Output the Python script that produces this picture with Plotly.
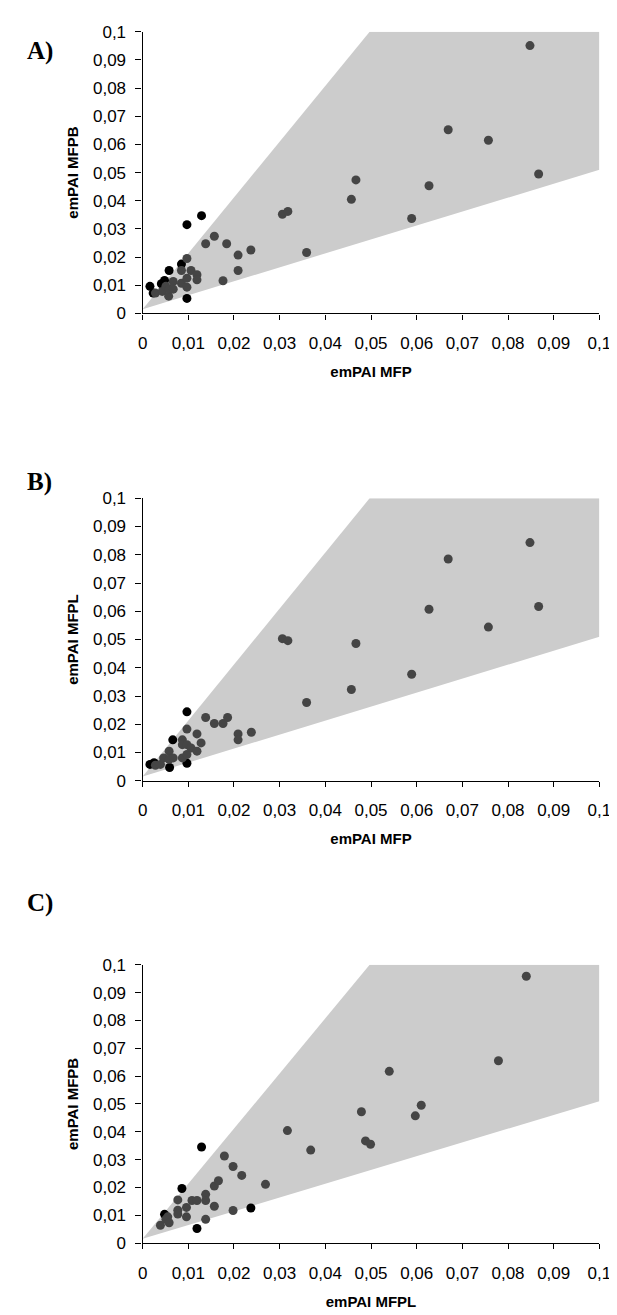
import plotly.graph_objects as go

# ---------------- data ----------------
tick_vals = [0, 0.01, 0.02, 0.03, 0.04, 0.05, 0.06, 0.07, 0.08, 0.09, 0.1]
tick_labels = ["0", "0,01", "0,02", "0,03", "0,04", "0,05", "0,06", "0,07", "0,08", "0,09", "0,1"]

# shaded region (two-fold band)
band_x = [0, 0.0497, 0.1, 0.1, 0]
band_y = [0.0015, 0.1, 0.1, 0.051, 0.0015]

# Panel A: emPAI MFP (x) vs emPAI MFPB (y)
a_gray_x = [0.0028, 0.0043, 0.0051, 0.0057, 0.0058, 0.0067, 0.0067, 0.0085, 0.0085, 0.0097, 0.0097, 0.0097,
            0.0106, 0.0119, 0.0119, 0.0138, 0.0157, 0.0176, 0.0184, 0.0209, 0.0209, 0.0237, 0.0306, 0.0318,
            0.0359, 0.0457, 0.0467, 0.0589, 0.0627, 0.0669, 0.0757, 0.0848, 0.0867]
a_gray_y = [0.0072, 0.0078, 0.0096, 0.0061, 0.0086, 0.0113, 0.0086, 0.0152, 0.0107, 0.0195, 0.0125, 0.0093,
            0.0152, 0.0137, 0.0119, 0.0247, 0.0274, 0.0116, 0.0247, 0.0207, 0.0152, 0.0225, 0.0352, 0.0362,
            0.0216, 0.0405, 0.0474, 0.0337, 0.0453, 0.0652, 0.0615, 0.0951, 0.0495]
a_black_x = [0.0016, 0.0023, 0.0041, 0.0048, 0.0058, 0.0097, 0.0129, 0.0097, 0.0085]
a_black_y = [0.0096, 0.0072, 0.0105, 0.0117, 0.0152, 0.0315, 0.0347, 0.0053, 0.0175]

# Panel B: emPAI MFP (x) vs emPAI MFPL (y)
b_gray_x = [0.0028, 0.0039, 0.0046, 0.0058, 0.0058, 0.0067, 0.0087, 0.0087, 0.0087, 0.0097, 0.0097, 0.0097,
            0.0106, 0.0119, 0.0119, 0.0128, 0.0138, 0.0157, 0.0176, 0.0186, 0.0209, 0.0209, 0.0238, 0.0306,
            0.0318, 0.0359, 0.0457, 0.0467, 0.0589, 0.0627, 0.0669, 0.0757, 0.0848, 0.0867]
b_gray_y = [0.0055, 0.0058, 0.0081, 0.0105, 0.0076, 0.0081, 0.0145, 0.0128, 0.0081, 0.0183, 0.0128, 0.0093,
            0.0116, 0.0166, 0.0105, 0.0134, 0.0224, 0.0203, 0.0203, 0.0224, 0.0166, 0.0145, 0.0172, 0.0503,
            0.0496, 0.0277, 0.0323, 0.0486, 0.0377, 0.0607, 0.0785, 0.0544, 0.0843, 0.0617]
b_black_x = [0.0016, 0.0025, 0.0097, 0.0066, 0.0097, 0.0059]
b_black_y = [0.0058, 0.0064, 0.0244, 0.0145, 0.0062, 0.0047]

# Panel C: emPAI MFPL (x) vs emPAI MFPB (y)
c_gray_x = [0.0039, 0.0051, 0.0055, 0.0058, 0.0077, 0.0077, 0.0077, 0.0096, 0.0096, 0.0108, 0.0119, 0.0138,
            0.0138, 0.0138, 0.0157, 0.0157, 0.0166, 0.0179, 0.0198, 0.0198, 0.0217, 0.0269, 0.0317, 0.0368,
            0.0479, 0.0488, 0.0499, 0.0540, 0.0597, 0.0610, 0.0779, 0.0840]
c_gray_y = [0.0064, 0.0085, 0.0094, 0.0073, 0.0155, 0.0118, 0.0104, 0.0128, 0.0094, 0.0153, 0.0153, 0.0175,
            0.0153, 0.0085, 0.0132, 0.0205, 0.0224, 0.0313, 0.0275, 0.0117, 0.0243, 0.0211, 0.0404, 0.0334,
            0.0472, 0.0367, 0.0355, 0.0617, 0.0457, 0.0495, 0.0655, 0.0959]
c_black_x = [0.0048, 0.0086, 0.0129, 0.0119, 0.0237]
c_black_y = [0.0103, 0.0196, 0.0345, 0.0052, 0.0126]

panels = [
    ("A)", "emPAI MFP", "emPAI MFPB", a_gray_x, a_gray_y, a_black_x, a_black_y),
    ("B)", "emPAI MFP", "emPAI MFPL", b_gray_x, b_gray_y, b_black_x, b_black_y),
    ("C)", "emPAI MFPL", "emPAI MFPB", c_gray_x, c_gray_y, c_black_x, c_black_y),
]

# ---------------- layout ----------------
W, H = 617, 1315
x_dom = [133.3 / W, 603 / W]
# plot-area top / bottom in pixels for each panel
y_px = [(15, 300.7), (488.3, 775), (961.7, 1244)]
label_y_px = [35, 472, 899]

FONT = "Liberation Sans, Arial, sans-serif"
GRAY_DOT = "#454545"
BAND = "#cccccc"

fig = go.Figure()
layout = dict(
    width=W, height=H,
    margin=dict(l=0, r=0, t=0, b=0),
    paper_bgcolor="white", plot_bgcolor="white",
    showlegend=False,
    font=dict(family=FONT, color="black"),
    annotations=[],
)

for i, (lab, xt, yt, gx, gy, bx, by) in enumerate(panels):
    n = "" if i == 0 else str(i + 1)
    xa, ya = "x" + n, "y" + n
    fig.add_trace(go.Scatter(x=band_x, y=band_y, mode="lines", fill="toself",
                             fillcolor=BAND, line=dict(width=0, color=BAND),
                             hoverinfo="skip", xaxis=xa, yaxis=ya))
    fig.add_trace(go.Scatter(x=bx, y=by, mode="markers",
                             marker=dict(size=9, color="black"),
                             xaxis=xa, yaxis=ya))
    fig.add_trace(go.Scatter(x=gx, y=gy, mode="markers",
                             marker=dict(size=9, color=GRAY_DOT),
                             xaxis=xa, yaxis=ya))
    top, bot = y_px[i]
    axcommon = dict(range=[0, 0.1], tickvals=tick_vals, ticktext=tick_labels,
                    showgrid=False, zeroline=False, showline=True,
                    linecolor="black", linewidth=1.3,
                    ticks="outside", tickcolor="black", tickwidth=1.3,
                    tickfont=dict(size=17, family=FONT, color="black"))
    layout["xaxis" + n] = dict(axcommon, domain=x_dom, anchor=ya, ticklen=5,
                               ticklabelstandoff=9,
                               title=dict(text="<b>" + xt + "</b>", standoff=14,
                                          font=dict(size=15, family=FONT)))
    layout["yaxis" + n] = dict(axcommon, domain=[1 - bot / H, 1 - top / H], anchor=xa,
                               ticklen=6, ticklabelstandoff=6,
                               title=dict(text="<b>" + yt + "</b>", standoff=10,
                                          font=dict(size=15, family=FONT)))
    layout["annotations"].append(dict(
        text="<b>" + lab + "</b>", xref="paper", yref="paper",
        x=12 / W, y=1 - label_y_px[i] / H, xanchor="left", yanchor="middle",
        showarrow=False, font=dict(size=25, family="Liberation Serif, Times New Roman, serif",
                                   color="black")))

fig.update_layout(**layout)
fig.write_html("out.html")
